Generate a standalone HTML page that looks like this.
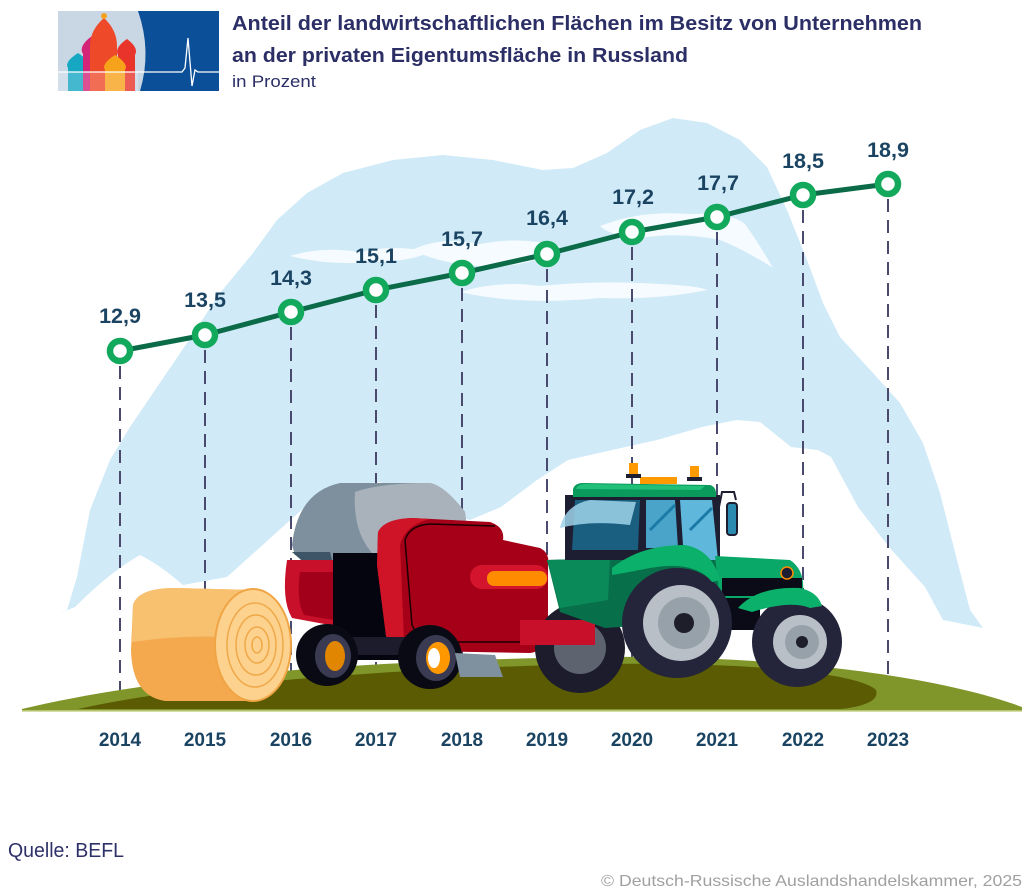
<!DOCTYPE html>
<html><head><meta charset="utf-8"><style>
html,body{margin:0;padding:0;background:#fff;}
svg{display:block;}
text{font-family:"Liberation Sans",Arial,sans-serif;}
</style></head><body>
<svg width="1024" height="893" viewBox="0 0 1024 893" xmlns="http://www.w3.org/2000/svg">
<rect width="1024" height="893" fill="#fff"/>

<!-- Logo -->
<rect x="58" y="11" width="161" height="80" fill="#c9d7e5"/>
<path d="M138,11 Q152,51 140,91 L219,91 L219,11 Z" fill="#0a4f97"/>
<path d="M68,91 L68,68 Q64,62 78,53 Q92,62 88,68 L88,91 Z" fill="#16a7c2"/>
<path d="M83,91 L83,54 Q78,46 92,36 Q105,46 100,54 L100,91 Z" fill="#d42478"/>
<path d="M90,91 L90,46 Q90,30 104,18 Q117,30 117,46 L117,91 Z" fill="#ee4a2a"/>
<circle cx="104" cy="16" r="3" fill="#f8a020"/>
<path d="M118,91 L118,55 Q114,48 127,39 Q139,48 135,55 L135,91 Z" fill="#e8342a"/>
<path d="M105,91 L105,70 Q101,64 115,55 Q129,64 125,70 L125,91 Z" fill="#f7a21b"/>
<rect x="58" y="72" width="80" height="19" fill="#ffffff" opacity="0.2"/>
<polyline points="58,72 182,72 185,68 188,38 192,86 195,70 198,72 219,72" fill="none" stroke="#fff" stroke-width="1.3"/>

<!-- Title -->
<text x="232" y="30" font-size="20" font-weight="bold" fill="#2c2f66" textLength="690" lengthAdjust="spacingAndGlyphs">Anteil der landwirtschaftlichen Flächen im Besitz von Unternehmen</text>
<text x="232" y="62" font-size="20" font-weight="bold" fill="#2c2f66" textLength="456" lengthAdjust="spacingAndGlyphs">an der privaten Eigentumsfläche in Russland</text>
<text x="232" y="87" font-size="16.5" fill="#2c2f66" textLength="84" lengthAdjust="spacingAndGlyphs">in Prozent</text>

<!-- Blue mountain -->
<path d="M62,612 L67,610 L77,577 L90,510 L110,460 L130,427 L153,393 L187,343 L220,293 L253,253 L277,220 L307,193 L343,173 L393,160 L443,155 L493,160 L543,170 L573,168 L607,153 L640,130 L673,118 L707,123 L740,140 L767,167 L787,210 L807,260 L823,303 L840,337 L873,373 L900,403 L923,443 L940,493 L957,560 L970,610 L983,628 L983,640 L62,640 Z" fill="#d0eaf8"/>

<!-- cloud streaks -->
<path d="M290,256 Q320,246 360,252 Q395,244 430,252 Q410,262 370,262 Q330,266 290,256 Z" fill="#f5fbfe"/>
<path d="M412,250 Q440,236 480,244 Q520,236 560,246 Q540,264 500,266 Q450,268 412,250 Z" fill="#f5fbfe"/>
<path d="M460,292 Q500,280 540,286 Q600,280 660,284 Q700,286 707,290 Q660,300 600,298 Q520,306 460,292 Z" fill="#f5fbfe"/>
<path d="M600,226 Q640,210 690,214 Q730,212 745,224 Q760,245 773,268 Q745,250 720,240 Q680,232 640,238 Q610,236 600,226 Z" fill="#f5fbfe"/>

<!-- White lower mountain -->
<path d="M60,613 L75,607 Q110,572 140,555 Q160,565 183,585 L227,577 L327,487 L380,482 L440,512 L470,520 L501,507 L537,480 L568,460 L612,450 L657,440 L702,427 L737,420 L760,422 L791,447 L818,450 L831,457 L858,507 L889,547 L925,587 L943,620 L983,628 L1024,640 L1024,720 L0,720 L0,613 Z" fill="#ffffff"/>

<!-- Dashed lines -->
<g stroke="#4a4a6e" stroke-width="2" stroke-dasharray="13 8" fill="none">
<line x1="120" y1="366" x2="120" y2="705"/>
<line x1="205" y1="350" x2="205" y2="705"/>
<line x1="291" y1="327" x2="291" y2="705"/>
<line x1="376" y1="305" x2="376" y2="705"/>
<line x1="462" y1="288" x2="462" y2="705"/>
<line x1="547" y1="269" x2="547" y2="705"/>
<line x1="632" y1="247" x2="632" y2="705"/>
<line x1="717" y1="232" x2="717" y2="705"/>
<line x1="803" y1="210" x2="803" y2="705"/>
<line x1="888" y1="199" x2="888" y2="705"/>
</g>

<!-- Ground -->
<path d="M22,709 C150,678 350,660 600,657 C800,655 950,680 1022,707 L1022,711 L22,711 Z" fill="#80962a"/>
<path d="M78,709 C200,682 400,668 600,664 C760,662 860,674 876,690 C880,702 860,707 840,709 Z" fill="#5a5b02"/>
<line x1="22" y1="711" x2="1022" y2="711" stroke="#c8d48a" stroke-width="1.5"/>

<!-- Hay bale -->
<path d="M133,605 Q138,588 175,588 L255,590 L255,701 L165,701 Q132,696 131,650 Z" fill="#f4a94f"/>
<path d="M133,605 Q138,588 175,588 L255,590 L255,640 Q200,632 132,642 Z" fill="#f8c170"/>
<ellipse cx="253" cy="645" rx="38" ry="56" fill="#fcd28e" stroke="#f0a545" stroke-width="2"/>
<g fill="none" stroke="#f0a848" stroke-width="1.5">
<ellipse cx="255" cy="645" rx="28" ry="42"/>
<ellipse cx="256" cy="645" rx="20" ry="30"/>
<ellipse cx="257" cy="645" rx="12" ry="18"/>
<ellipse cx="257" cy="645" rx="5" ry="8"/>
</g>

<!-- Baler -->
<path d="M292,545 Q298,492 340,483 L430,483 Q445,486 465,512 L470,560 L340,572 L295,555 Z" fill="#7e909e"/>
<path d="M355,492 Q380,483 430,483 Q445,486 465,512 L470,548 L382,562 Q352,540 355,492 Z" fill="#a9b2ba"/>
<path d="M292,552 L330,552 L335,572 L316,573 Z" fill="#3d5566"/>
<path d="M287,560 Q281,600 292,618 L346,628 L346,560 Z" fill="#c9102a"/>
<path d="M300,572 Q296,600 304,615 L346,622 L346,572 Z" fill="#a2001a"/>
<rect x="333" y="553" width="67" height="107" fill="#05050f"/>
<path d="M378,532 Q384,519 412,518 L490,522 Q505,527 503,540 L540,548 Q550,553 548,565 L548,636 Q545,651 530,653 L420,651 Q390,651 386,636 L377,565 Z" fill="#a60018"/>
<path d="M378,532 Q384,519 412,518 L430,519 Q405,525 400,545 L404,640 Q392,645 386,636 L377,565 Z" fill="#d01428"/>
<path d="M405,540 Q410,525 430,524 L495,526 M405,540 L412,625 Q418,640 440,642 L545,642" fill="none" stroke="#1a0000" stroke-width="1.5"/>
<rect x="470" y="565" width="78" height="24" rx="12" fill="#d4142c"/>
<rect x="487" y="571" width="60" height="15" rx="7" fill="#ff8c00"/>
<rect x="330" y="637" width="95" height="18" fill="#1c1c2c"/>
<circle cx="327" cy="655" r="31" fill="#0a0a14"/>
<ellipse cx="333" cy="656" rx="18" ry="22" fill="#3a3a52"/>
<ellipse cx="335" cy="656" rx="10" ry="15" fill="#e08600"/>
<circle cx="430" cy="657" r="32" fill="#0a0a14"/>
<ellipse cx="436" cy="658" rx="20" ry="23" fill="#3a3a52"/>
<ellipse cx="438" cy="658" rx="12" ry="16" fill="#ff9800"/>
<ellipse cx="434" cy="658" rx="6" ry="10" fill="#ffffff"/>
<polygon points="455,653 495,655 503,677 460,677" fill="#7f909e"/>

<!-- Tractor -->
<circle cx="580" cy="648" r="45" fill="#1c1c2c"/>
<circle cx="580" cy="648" r="26" fill="#5d6470"/>
<path d="M520,620 L595,620 L595,645 L520,645 Z" fill="#c9102a"/>
<path d="M547,560 L720,555 L720,620 L605,628 L560,612 Z" fill="#07704a"/>
<path d="M547,560 L610,558 L608,600 L560,608 Z" fill="#0a8a58"/>
<rect x="565" y="495" width="155" height="65" fill="#1e1e32"/>
<path d="M575,500 L640,500 L638,550 L572,550 Z" fill="#1a5f80"/>
<path d="M560,528 Q565,505 590,500 L636,502 L630,525 Q590,520 560,528 Z" fill="#9fd4ea" opacity="0.85"/>
<path d="M646,500 L675,500 L678,548 L646,548 Z" fill="#4aa3c8"/>
<path d="M680,500 L712,500 L718,560 L684,560 Z" fill="#5fb8dc"/>
<path d="M650,530 L675,505 M690,530 L712,508" stroke="#1a7aa8" stroke-width="3"/>
<path d="M573,497 L573,489 Q575,483 583,483 L710,485 Q717,487 716,497 Z" fill="#0a9a5c"/>
<path d="M576,489 Q578,484 585,484 L705,486 L700,490 Z" fill="#20c078"/>
<rect x="629" y="463" width="9" height="12" fill="#ff9a00"/>
<rect x="690" y="466" width="9" height="12" fill="#ff9a00"/>
<rect x="640" y="477" width="37" height="7" fill="#ff9a00"/>
<rect x="626" y="474" width="15" height="4" fill="#1e1e32"/>
<rect x="687" y="477" width="15" height="4" fill="#1e1e32"/>
<path d="M718,512 L722,492 L734,492 L736,500" fill="none" stroke="#1e1e32" stroke-width="2"/>
<rect x="727" y="503" width="10" height="32" rx="3" fill="#2a8ab0" stroke="#1e1e32" stroke-width="2"/>
<path d="M715,556 L790,560 Q805,570 803,592 L720,602 Z" fill="#0aa868"/>
<rect x="722" y="578" width="80" height="18" fill="#0b0b18"/>
<circle cx="787" cy="573" r="6" fill="#1e1e32" stroke="#ff8c00" stroke-width="1.5"/>
<rect x="700" y="598" width="60" height="32" fill="#0b0b18"/>
<circle cx="677" cy="623" r="55" fill="#24243a"/>
<circle cx="681" cy="623" r="38" fill="#b8bfc6"/>
<circle cx="684" cy="623" r="26" fill="#97a1aa"/>
<circle cx="684" cy="623" r="10" fill="#1e1e2a"/>
<path d="M612,568 Q640,545 685,545 Q712,550 720,580 L712,582 Q695,560 650,568 Q630,572 612,575 Z" fill="#0bb06a"/>
<circle cx="797" cy="642" r="45" fill="#24243a"/>
<circle cx="800" cy="642" r="27" fill="#b8bfc6"/>
<circle cx="802" cy="642" r="17" fill="#97a1aa"/>
<circle cx="802" cy="642" r="6" fill="#1e1e2a"/>
<path d="M738,608 Q758,586 800,588 Q818,592 822,606 L810,608 Q790,600 752,612 Z" fill="#0bb06a"/>

<!-- Data line -->
<polyline points="120,351 205,335 291,312 376,290 462,273 547,254 632,232 717,217 803,195 888,184" fill="none" stroke="#0b6b48" stroke-width="5" stroke-linejoin="round"/>
<g fill="#fff" stroke="#12a95c" stroke-width="6.5">
<circle cx="120" cy="351" r="10"/>
<circle cx="205" cy="335" r="10"/>
<circle cx="291" cy="312" r="10"/>
<circle cx="376" cy="290" r="10"/>
<circle cx="462" cy="273" r="10"/>
<circle cx="547" cy="254" r="10"/>
<circle cx="632" cy="232" r="10"/>
<circle cx="717" cy="217" r="10"/>
<circle cx="803" cy="195" r="10"/>
<circle cx="888" cy="184" r="10"/>
</g>

<!-- Value labels -->
<g font-size="21.5" font-weight="bold" fill="#1b4463" text-anchor="middle">
<text x="120" y="323">12,9</text>
<text x="205" y="307">13,5</text>
<text x="291" y="285">14,3</text>
<text x="376" y="263">15,1</text>
<text x="462" y="246">15,7</text>
<text x="547" y="225">16,4</text>
<text x="633" y="204">17,2</text>
<text x="718" y="190">17,7</text>
<text x="803" y="168">18,5</text>
<text x="888" y="157">18,9</text>
</g>

<!-- Year labels -->
<g font-size="19" font-weight="bold" fill="#1b4463" text-anchor="middle">
<text x="120" y="746">2014</text>
<text x="205" y="746">2015</text>
<text x="291" y="746">2016</text>
<text x="376" y="746">2017</text>
<text x="462" y="746">2018</text>
<text x="547" y="746">2019</text>
<text x="632" y="746">2020</text>
<text x="717" y="746">2021</text>
<text x="803" y="746">2022</text>
<text x="888" y="746">2023</text>
</g>

<!-- Footer -->
<text x="8" y="857" font-size="20" fill="#2e3068" textLength="116" lengthAdjust="spacingAndGlyphs">Quelle: BEFL</text>
<text x="1022" y="886" font-size="16" fill="#a0a0a0" text-anchor="end" textLength="421" lengthAdjust="spacingAndGlyphs">© Deutsch-Russische Auslandshandelskammer, 2025</text>
</svg>
</body></html>
